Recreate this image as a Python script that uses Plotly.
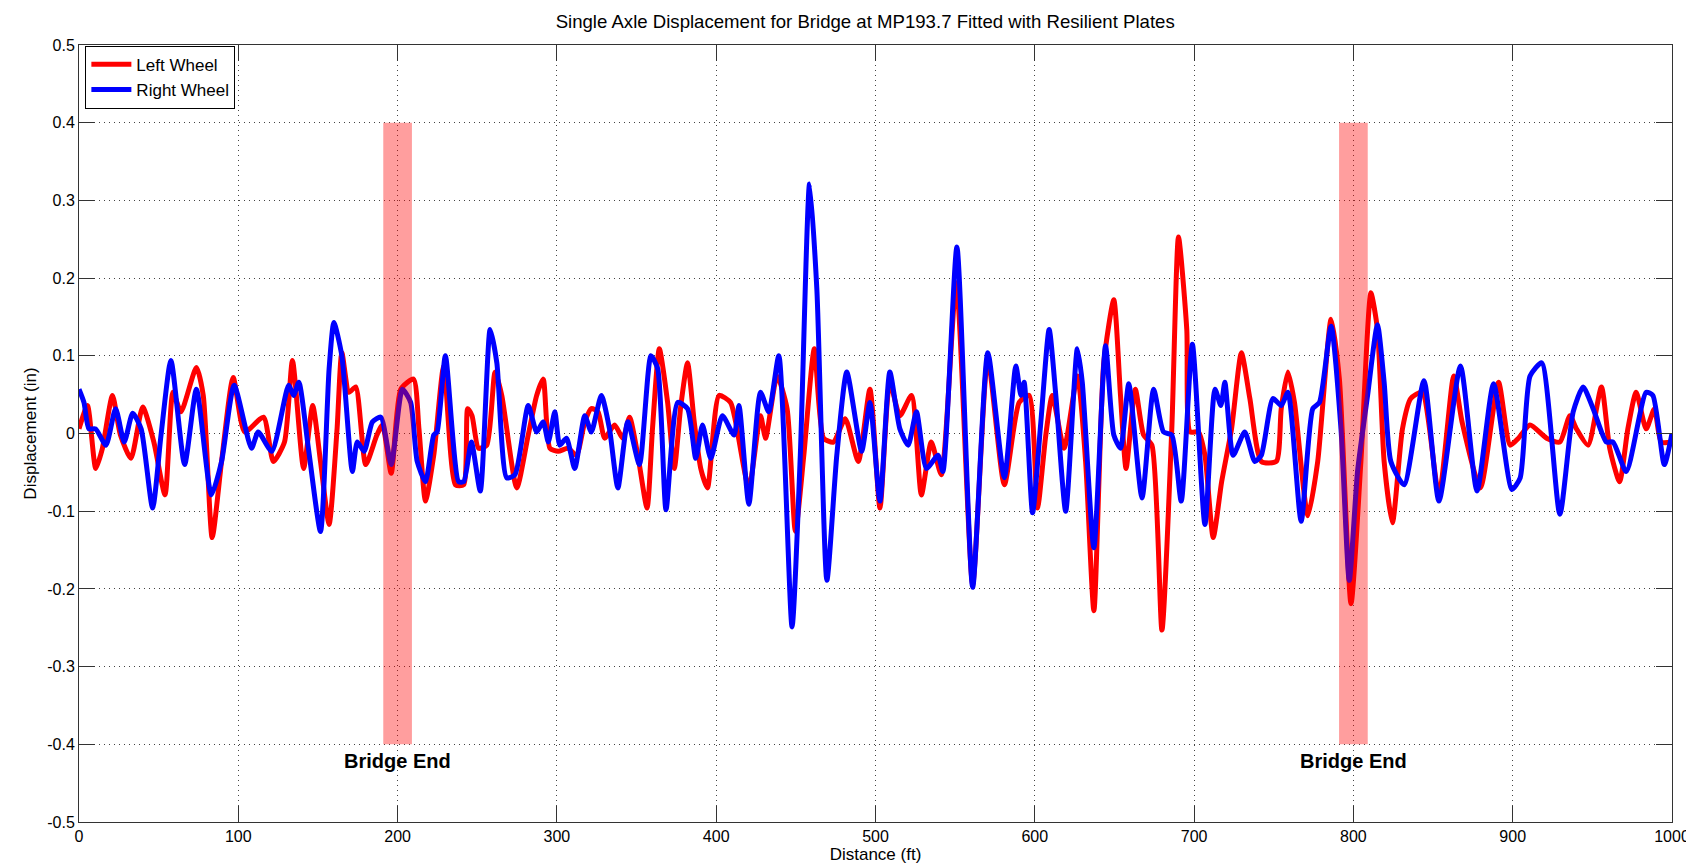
import plotly.graph_objects as go

# ---- data ----
left_x = [0, 5.3, 10.5, 14.7, 21, 26, 32.6, 40, 47, 54, 59, 64, 73.7, 78, 83.6, 89.5, 96.8, 104, 115.8, 122,
          129, 134, 141, 146.7, 151.6, 157, 162, 165, 169.5, 173.7, 180, 187, 190.5, 196, 202, 210, 213.4, 217.5,
          222.7, 229, 236.3, 241.5, 244, 246.7, 250.8, 256, 261.2, 265.4, 274.8, 282, 287.3, 291.4, 295.6, 300.8,
          307, 312.3, 317.5, 321.6, 325.8, 330, 336.2, 341.4, 345.6, 350.8, 356.6, 360, 364.3, 369.5, 373.7, 377.8,
          382, 386.2, 390.3, 394.5, 401.8, 409, 412.2, 420.5, 427.8, 431, 438.2, 444.5, 449.7, 455, 461.6, 467.4,
          473.6, 481, 489.2, 496.5, 502.8, 509, 515.3, 522.6, 528.8, 535, 541.3, 550.7, 561, 570.5, 580.9, 590.2,
          596.5, 601.7, 606.9, 611, 618.4, 626.7, 631.9, 637.1, 643.3, 649.6, 653.8, 657.3, 663.1, 668.3, 673.5,
          679.8, 686, 690.2, 695.4, 697.5, 702.7, 706.8, 712, 717.3, 723.5, 729.7, 735, 742.2, 751.6, 754.7, 758.9,
          763, 771.4, 777.6, 786, 791.2, 798.5, 804.7, 811, 815.1, 819.3, 824.5, 830.8, 836, 843.2, 853.7, 863,
          868.2, 879.7, 891.1, 898.4, 903.6, 910.9, 921.3, 929.6, 935.9, 940, 947.3, 955.7, 960.9, 967.1, 972.3,
          977.5, 983.8, 989, 993.2, 1000]
left_y = [0.006, 0.036, -0.045, -0.019, 0.049, -0.002, -0.032, 0.034, -0.011, -0.079, 0.053, 0.028, 0.085, 0.049,
          -0.134, -0.036, 0.072, 0.002, 0.021, -0.036, -0.011, 0.094, -0.045, 0.036, -0.036, -0.117, 0.006, 0.104,
          0.053, 0.06, -0.04, -0.002, 0.011, -0.051, 0.057, 0.07, 0.006, -0.087, -0.028, 0.087, -0.066, -0.066,
          0.032, 0.023, -0.019, -0.015, 0.079, 0.049, -0.07, -0.002, 0.049, 0.07, -0.019, -0.023, -0.019, -0.028,
          0.015, 0.032, 0.028, -0.006, 0.011, -0.006, 0.021, -0.028, -0.096, 0.006, 0.109, 0.04, -0.045, 0.036,
          0.091, 0.015, -0.045, -0.07, 0.049, 0.04, 0.015, -0.07, 0.023, -0.006, 0.074, 0.032, -0.126, -0.028,
          0.109, -0.006, -0.011, 0.019, -0.036, 0.057, -0.096, 0.066, 0.023, 0.049, -0.079, -0.011, -0.053, 0.194,
          -0.194, 0.096, -0.066, 0.04, 0.049, -0.096, -0.002, 0.049, -0.019, 0.074, -0.036, -0.228, 0.091, 0.172,
          0.049, -0.045, 0.057, -0.002, -0.015, -0.253, 0.006, 0.253, 0.134, 0.002, 0.002, -0.028, -0.134, -0.062,
          0.006, 0.104, 0.045, -0.036, -0.036, 0.032, 0.079, 0.04, -0.106, -0.036, 0.147, 0.07, -0.219, -0.036,
          0.181, 0.134, -0.036, -0.115, 0.006, 0.045, 0.053, -0.079, 0.074, 0.015, -0.07, 0.066, -0.015, -0.006,
          0.011, -0.006, -0.011, 0.023, 0.006, -0.015, 0.06, -0.019, -0.062, 0.006, 0.053, 0.006, 0.032, -0.011,
          -0.011]

right_x = [0, 3.1, 6.2, 10.4, 16.9, 23, 28.4, 33.7, 39, 46.2, 51.5, 57.7, 66.3, 73.7, 83.1, 89.5, 97.4, 108.3,
           112.5, 121, 131.6, 134.7, 138, 144, 151.6, 157, 160, 165, 171.6, 174.7, 179, 184.2, 189.5, 196, 203,
           208.2, 212.3, 217.5, 222.7, 224.8, 230, 238.3, 241.5, 246.3, 251.9, 258.1, 262.3, 268.5, 273.7, 282,
           287.3, 291.4, 294.6, 298.7, 301.8, 306, 311.2, 317.5, 321.6, 327.9, 333, 338.3, 344.5, 351.8, 359,
           363.3, 368.5, 375.8, 382, 387.2, 391.4, 396.6, 403.9, 411.2, 414.3, 420.5, 427.8, 433, 439.3, 447.6,
           452.8, 458.6, 463.2, 469.5, 475.7, 482, 491.3, 496.5, 502.8, 509, 515.3, 520.5, 525.7, 532, 539.2,
           542.3, 551.1, 561, 570.5, 580.9, 588.1, 591.3, 593.3, 598.6, 603.8, 609, 613.2, 619.4, 626.7, 629.8,
           637.1, 644.4, 649.6, 653.8, 659, 667.3, 674.6, 680.8, 686, 691.9, 698.9, 706.8, 713.1, 716.8, 719.3,
           724.5, 731.8, 738.1, 742.2, 749.5, 754.7, 758.9, 767.2, 774.5, 778.7, 786, 792.2, 797.4, 802.6, 808.9,
           815.1, 819.3, 823.5, 831.8, 844.3, 853.7, 867.2, 877.6, 888, 899.5, 904.7, 910.9, 918.2, 929.6, 938,
           944.2, 950.5, 958.8, 963, 971.3, 983.8, 988, 995.2, 1000]
right_y = [0.057, 0.04, 0.006, 0.006, -0.015, 0.032, -0.011, 0.026, 0.006, -0.096, -0.002, 0.094, -0.04, 0.057,
           -0.079, -0.036, 0.062, -0.019, 0.002, -0.023, 0.062, 0.049, 0.066, -0.019, -0.126, 0.083, 0.143, 0.1,
           -0.049, -0.011, -0.023, 0.015, 0.021, -0.04, 0.057, 0.04, -0.036, -0.062, -0.002, 0.002, 0.1, -0.062,
           -0.062, -0.011, -0.074, 0.134, 0.091, -0.057, -0.053, 0.036, 0.002, 0.015, -0.011, 0.028, -0.015,
           -0.006, -0.045, 0.023, 0.002, 0.049, 0.006, -0.07, 0.015, -0.04, 0.1, 0.083, -0.098, 0.04, 0.032,
           -0.032, 0.011, -0.032, 0.023, -0.002, 0.036, -0.091, 0.053, 0.028, 0.1, -0.249, -0.028, 0.321, 0.185,
           -0.189, -0.028, 0.079, -0.023, 0.04, -0.087, 0.079, 0.006, -0.015, 0.028, -0.045, -0.028, -0.049, 0.24,
           -0.198, 0.104, -0.057, 0.087, 0.049, 0.066, -0.102, 0.015, 0.134, 0.049, -0.1, 0.109, 0.066, -0.147,
           0.113, -0.002, -0.019, 0.064, -0.083, 0.057, 0.002, -0.002, -0.087, 0.115, -0.117, 0.057, 0.036, 0.066,
           -0.028, 0.002, -0.036, -0.028, 0.045, 0.036, 0.053, -0.113, 0.032, 0.04, 0.138, 0.006, -0.189, -0.049,
           0.049, 0.14, 0.066, -0.036, -0.066, 0.068, -0.087, 0.087, -0.074, 0.064, -0.072, -0.057, 0.074, 0.091,
           -0.104, 0.028, 0.06, 0.032, -0.011, -0.011, -0.049, 0.053, 0.049, -0.04, 0.0]

bridge_ends = [200, 800]
bridge_half_width = 9
bridge_y = [-0.4, 0.4]
bridge_label = "Bridge End"

x_ticks = [0, 100, 200, 300, 400, 500, 600, 700, 800, 900, 1000]
y_ticks = [-0.5, -0.4, -0.3, -0.2, -0.1, 0, 0.1, 0.2, 0.3, 0.4, 0.5]
y_tick_text = ["-0.5", "-0.4", "-0.3", "-0.2", "-0.1", "0", "0.1", "0.2", "0.3", "0.4", "0.5"]

FONT = "Liberation Sans, Arial, sans-serif"

fig = go.Figure()
fig.add_trace(go.Scatter(x=left_x, y=left_y, mode="lines", name="Left Wheel",
                         line=dict(color="#FF0000", width=5, shape="spline", smoothing=0.6)))
fig.add_trace(go.Scatter(x=right_x, y=right_y, mode="lines", name="Right Wheel",
                         line=dict(color="#0000FF", width=5, shape="spline", smoothing=0.6)))

for xc in bridge_ends:
    fig.add_shape(type="rect", xref="x", yref="y", x0=xc - bridge_half_width, x1=xc + bridge_half_width,
                  y0=bridge_y[0], y1=bridge_y[1], fillcolor="rgba(255,0,0,0.38)", line=dict(width=0),
                  layer="above")
    fig.add_annotation(x=xc, y=-0.422, text="<b>" + bridge_label + "</b>", showarrow=False,
                       font=dict(family=FONT, size=20, color="black"), xanchor="center", yanchor="middle")

axis_common = dict(showline=True, linecolor="#333333", linewidth=1, mirror="ticks",
                   ticks="inside", ticklen=16, tickcolor="#333333", tickwidth=1,
                   showgrid=True, gridcolor="#444444", gridwidth=1, griddash="1px,4px",
                   zeroline=False, tickfont=dict(family=FONT, size=16, color="black"))

fig.update_xaxes(range=[0, 1000], tickvals=x_ticks, title=dict(text="Distance (ft)", standoff=3,
                 font=dict(family=FONT, size=17, color="black")), **axis_common)
fig.update_yaxes(range=[-0.5, 0.5], tickvals=y_ticks, ticktext=y_tick_text,
                 title=dict(text="Displacement (in)", standoff=6, font=dict(family=FONT, size=17, color="black")),
                 **axis_common)

fig.update_layout(
    width=1694, height=864,
    margin=dict(l=71, r=22, t=37, b=44),
    paper_bgcolor="white", plot_bgcolor="white",
    title=dict(text="Single Axle Displacement for Bridge at MP193.7 Fitted with Resilient Plates",
               x=0.506, xanchor="center", y=0.984, yanchor="middle",
               font=dict(family=FONT, size=18.6, color="black")),
    legend=dict(x=0.004, y=0.999, xanchor="left", yanchor="top", bgcolor="white",
                bordercolor="black", borderwidth=1, font=dict(family=FONT, size=17, color="black"),
                tracegroupgap=0, itemwidth=40),
    showlegend=True,
)

fig.write_html("out.html")
